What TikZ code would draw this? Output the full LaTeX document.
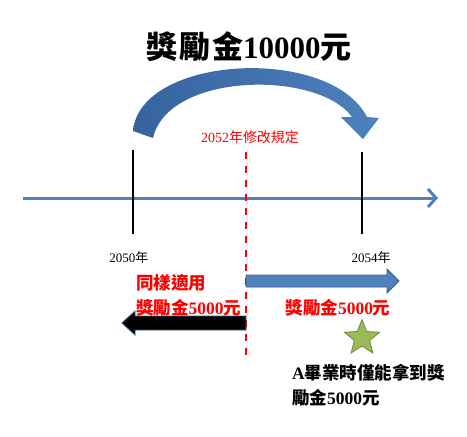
\documentclass[tikz,border=0pt]{standalone}
\usepackage{fontspec}
\setmainfont{Liberation Serif}
\newfontfamily\cjk{Noto Sans CJK TC}
\usetikzlibrary{arrows.meta,shapes.geometric}
\definecolor{axisblue}{HTML}{4F81BD}
\definecolor{arcdark}{HTML}{35639E}
\definecolor{edgeblue}{HTML}{385D8A}
\definecolor{stargreen}{HTML}{9BBB59}
\definecolor{staredge}{HTML}{71893F}
\newcommand\zh[1]{{\cjk #1}}
\tikzset{
  redlabel/.style={text=red,font=\bfseries\fontsize{17.5}{19}\selectfont,inner sep=0pt},
  yearlabel/.style={font=\fontsize{13}{15}\selectfont,inner sep=0pt},
  notelabel/.style={font=\bfseries\fontsize{17.5}{19}\selectfont,anchor=west,inner sep=0pt},
}
\begin{document}
\begin{tikzpicture}[x=1pt,y=-1pt]
\useasboundingbox (0,0) rectangle (467,437);
% title and the curved arrow
\node[font=\bfseries\fontsize{31}{33}\selectfont] (title) at (249,47) {\zh{獎\kern2pt 勵\kern2pt 金}10000\zh{元}};
\shade[left color=arcdark,right color=axisblue] (133,131) .. controls (140,55) and (330,45) .. (367,117)
  -- (379,118) -- (363,139) -- (341,117) -- (352,117)
  .. controls (318,70) and (168,72) .. (153,138) -- cycle;
\node[text=red,yearlabel,font=\fontsize{14}{16}\selectfont] (change) at (250,137) {2052\zh{年修改規定}};
% time axis
\coordinate (axL) at (23,198);
\coordinate (axR) at (438,198);
\draw[axisblue,line width=3,-{Straight Barb[length=8,width=18,line width=3]}] (axL) -- (axR);
\draw[line width=1.8] (133,150) -- (133,234);
\draw[line width=1.8] (362,152) -- (362,234);
\draw[red,line width=2.2,dash pattern=on 7 off 7] (246,152) -- (246,359);
\node[yearlabel] (y2050) at (129,258) {2050\zh{年}};
\node[yearlabel] (y2054) at (371,258) {2054\zh{年}};
% block arrows
\filldraw[fill=axisblue,draw=edgeblue,line width=0.8] (246,275) -- (387,275) -- (387,269) -- (399,281)
  -- (387,293) -- (387,287) -- (246,287) -- cycle;
\filldraw[fill=black,draw=edgeblue,line width=0.8] (246,316) -- (135,316) -- (135,311) -- (122,323)
  -- (135,335) -- (135,330) -- (246,330) -- cycle;
\node[redlabel,anchor=west] (same) at (136,283) {\zh{同樣適用}};
\node[redlabel,anchor=west] (oldprize) at (136,308) {\zh{獎勵金}5000\zh{元}};
\node[redlabel] (newprize) at (338,308) {\zh{獎勵金}5000\zh{元}};
% student A
\node[star,star points=5,star point ratio=2.3,minimum size=37,inner sep=0pt,fill=stargreen,draw=staredge,line width=0.8] (mark) at (362,338) {};
\node[notelabel] (noteA) at (292,373) {A\zh{畢業時僅能拿到獎}};
\node[notelabel] (noteB) at (292,398) {\zh{勵金}5000\zh{元}};
\end{tikzpicture}
\end{document}
